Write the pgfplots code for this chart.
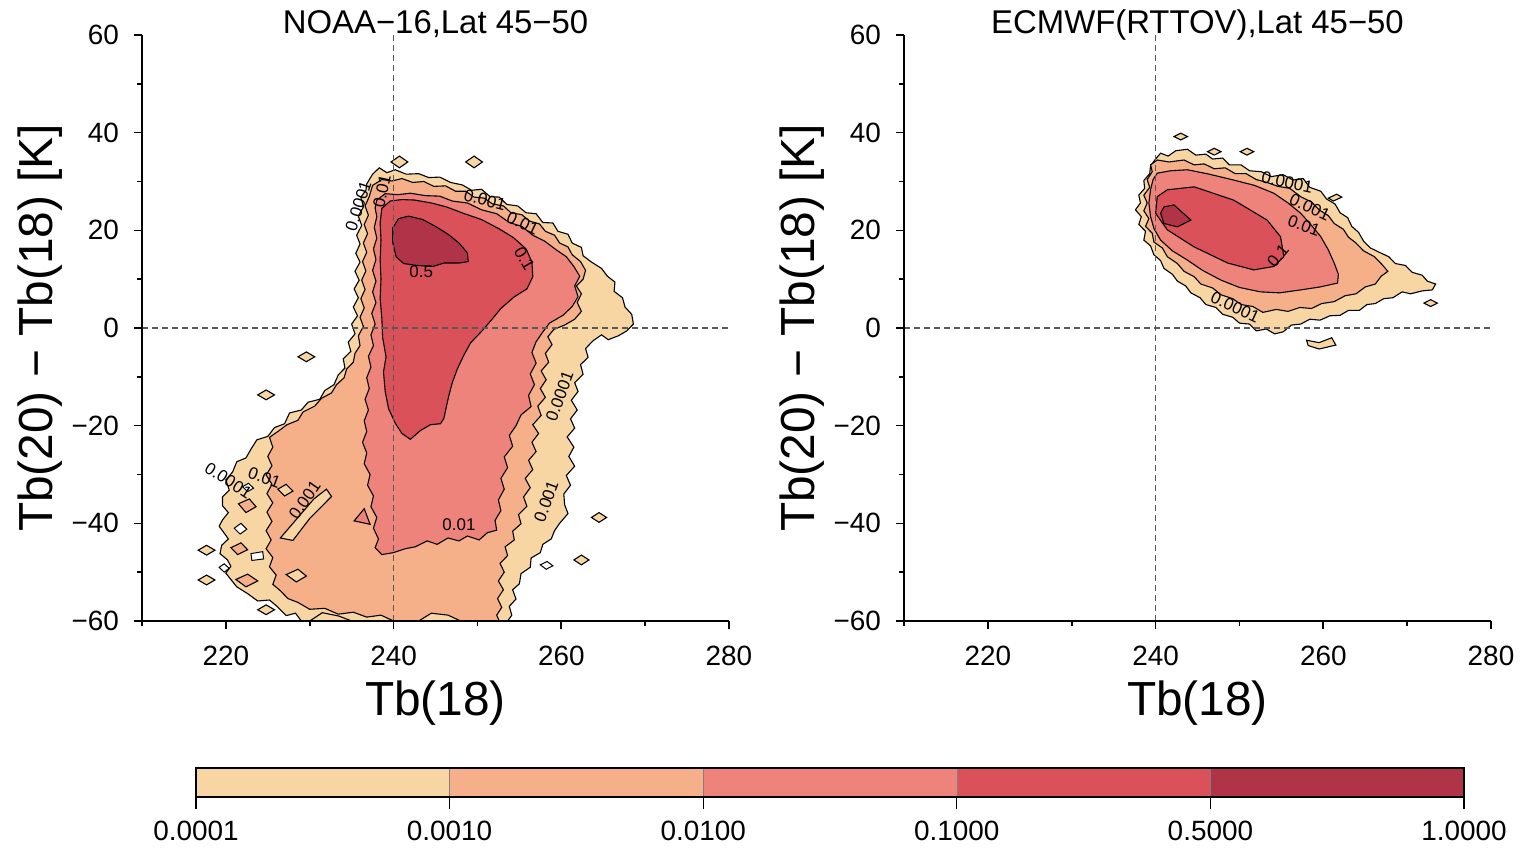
\documentclass[border=0pt]{standalone}
\usepackage{fontspec}
\setmainfont{Liberation Sans}
\usepackage{pgfplots}
\pgfplotsset{compat=1.18}
\definecolor{c1}{HTML}{F7D6A4}
\definecolor{c2}{HTML}{F5B089}
\definecolor{c3}{HTML}{EE837B}
\definecolor{c4}{HTML}{DA5159}
\definecolor{c5}{HTML}{B03347}
\tikzset{
 cl/.style={font=\fontsize{8.5}{9}\selectfont, inner sep=0pt},
 l1/.style={fill=c1, draw=black, line width=0.55bp},
 l2/.style={fill=c2, draw=black, line width=0.55bp},
 l3/.style={fill=c3, draw=black, line width=0.55bp},
 l4/.style={fill=c4, draw=black, line width=0.55bp},
 l5/.style={fill=c5, draw=black, line width=0.55bp},
 hole/.style={fill=white, draw=black, line width=0.5bp},
 dsh/.style={black!65, line width=0.6bp, dash pattern=on 3bp off 2bp},
}
\pgfplotsset{
 panel/.style={
  width=293.5bp, height=293bp, scale only axis,
  xmin=210,xmax=280,ymin=-60,ymax=60,
  axis x line*=bottom, axis y line*=left,
  axis line style={-, line width=1bp},
  tick align=outside,
  xtick={220,240,260,280}, minor xtick={210,230,250,270},
  ytick={-60,-40,-20,0,20,40,60}, yticklabels={−60,−40,−20,0,20,40,60},
  minor ytick={-50,-30,-10,10,30,50},
  major tick length=4bp, minor tick length=2.5bp,
  tick style={black, line width=0.8bp},
  ticklabel style={font=\fontsize{14}{16}\selectfont},
  xticklabel style={yshift=-5bp},
  yticklabel style={xshift=-4bp},
  /pgf/number format/assume math mode=true,
  xlabel={Tb(18)}, ylabel={Tb(20) − Tb(18) [K]},
  label style={font=\fontsize{24}{28}\selectfont},
  xlabel style={at={(axis description cs:0.5,-0.14)}, anchor=center},
  ylabel style={at={(axis description cs:-0.1735,0.5)}, anchor=center},
  title style={font=\fontsize{16.5}{18}\selectfont, at={(axis description cs:0.5,1)}, anchor=base, yshift=-5bp},
  axis on top,
 },
}
\begin{document}
\begin{tikzpicture}
\useasboundingbox (-71bp,-113.5bp) rectangle (691bp,310.5bp);
% ---------------- left panel ----------------
\begin{axis}[panel, at={(0,0)}, anchor=south west, title={NOAA−16,Lat 45−50}]
\addplot[l1] coordinates {(236.8,29.5) (237.5,31.5) (238.3,32.8) (239.2,31.8) (240.2,32.4) (241.5,31.5) (243,31.6) (244.2,30.8) (245.5,30.9) (246.8,29.8) (248.2,29.3) (249.3,28.2) (250.5,28.4) (251.5,26.9) (252.6,26.8) (253.5,25.3) (254.8,25.0) (255.8,23.6) (257,23.4) (257.8,21.6) (259,21.5) (259.6,19.8) (260.8,19.2) (261.3,17.4) (262.4,16.5) (262.6,14.8) (263.6,13.5) (264.8,12.2) (265.5,10.6) (266.4,9.4) (266.3,7.5) (267.3,6.2) (267.6,4.3) (268.4,2.8) (268.6,0.8) (267.8,-0.6) (266.8,-1.6) (265.6,-2.4) (264.8,-1.4) (263.8,-2.6) (262.9,-4.2) (263.2,-6.0) (262.3,-7.5) (262.6,-9.5) (261.6,-11.2) (262.0,-13.0) (261.2,-14.8) (261.9,-16.8) (261.1,-18.6) (261.6,-20.5) (260.7,-22.3) (261.5,-24.4) (260.9,-26.3) (261.6,-28.3) (260.6,-30.2) (261.1,-32.2) (260.3,-34.0) (260.4,-36.2) (260.8,-38.0) (259.8,-40.0) (259.2,-41.5) (258.8,-43.2) (257.8,-44.3) (257.5,-46.0) (256.4,-47.1) (256.3,-49.0) (255.2,-50.3) (255.0,-52.4) (254.2,-53.6) (254.6,-55.5) (253.8,-57.0) (254.1,-58.8) (253.6,-60) (229,-60) (228.3,-58.4) (227.2,-58.9) (226.1,-57.0) (225.2,-55.7) (223.8,-55.9) (222.6,-54.4) (221.3,-53) (220.6,-51.5) (220.0,-50.2) (220.6,-48.8) (220.2,-47.5) (219.3,-46.2) (219.5,-44.5) (220.3,-43.2) (219.8,-42) (219.2,-40.6) (219.6,-39.3) (220.3,-37.8) (219.6,-36.4) (219.6,-34.6) (220.4,-33.2) (220.0,-31.1) (220.8,-29.5) (221.3,-27.4) (222.4,-26.6) (223.0,-24.8) (223.7,-22.9) (225.0,-22.2) (225.8,-20.4) (227.0,-19.6) (227.6,-17.4) (229.0,-16.8) (229.8,-15.2) (231.2,-14.6) (231.8,-12.8) (232.9,-11.6) (233.4,-9.6) (234.2,-8.2) (234.0,-6.3) (234.9,-4.8) (234.6,-2.9) (235.4,-1.2) (235.0,0.8) (235.7,2.5) (235.2,4.3) (235.8,6.2) (235.3,8.0) (235.9,9.8) (235.4,11.6) (236.0,13.5) (235.5,15.3) (236.0,17.2) (235.6,19.0) (236.2,21.0) (235.8,22.9) (236.4,24.8) (236.1,26.8) (236.7,28.2)} -- cycle;
\addplot[l1] coordinates {(228.6,-5.9)(229.6,-4.9)(230.6,-5.9)(229.6,-6.9)} -- cycle;
\addplot[l1] coordinates {(223.8,-13.7)(224.8,-12.7)(225.8,-13.7)(224.8,-14.7)} -- cycle;
\addplot[l1] coordinates {(216.7,-45.5)(217.7,-44.5)(218.7,-45.5)(217.7,-46.5)} -- cycle;
\addplot[l1] coordinates {(216.7,-51.6)(217.7,-50.6)(218.7,-51.6)(217.7,-52.6)} -- cycle;
\addplot[l1] coordinates {(223.8,-57.7)(224.8,-56.7)(225.8,-57.7)(224.8,-58.7)} -- cycle;
\addplot[l1] coordinates {(239.7,34)(240.7,35.2)(241.7,34)(240.7,32.8)} -- cycle;
\addplot[l1] coordinates {(248.6,34)(249.6,35.2)(250.6,34)(249.6,32.8)} -- cycle;
\addplot[l1] coordinates {(261.5,-47.5)(262.4,-46.5)(263.3,-47.5)(262.4,-48.5)} -- cycle;
\addplot[l1] coordinates {(263.6,-38.8)(264.5,-37.8)(265.4,-38.8)(264.5,-39.8)} -- cycle;
\addplot[l2] coordinates {(237.5,29.2) (238.6,30.4) (239.8,30.1) (241,30.6) (242.3,29.8) (243.6,30.0) (244.8,29.0) (246.2,29.1) (247.4,28.0) (248.6,28.0) (249.6,26.8) (250.8,26.6) (251.8,25.4) (253.1,25.0) (254,23.6) (255.3,23.2) (256.2,21.9) (257.4,21.3) (258.1,19.8) (259.2,19.0) (259.8,17.4) (260.8,16.6) (261.3,15.0) (262.3,13.6) (262.9,11.8) (262.6,10.0) (261.8,8.6) (262.4,7.0) (261.9,5.2) (262.4,3.4) (261.6,1.8) (260.4,0.6) (259.1,-0.3) (258.4,-1.8) (258.9,-3.4) (258.1,-5.2) (258.5,-7.0) (257.6,-8.8) (258.2,-10.6) (257.5,-12.4) (258.1,-14.2) (257.2,-16.0) (257.6,-17.9) (256.6,-19.8) (257.3,-21.6) (256.5,-23.4) (257.0,-25.3) (256.1,-27.1) (256.6,-29.0) (255.7,-30.8) (256.3,-32.7) (255.5,-34.6) (255.9,-36.5) (254.9,-38.2) (255.2,-40.1) (254.2,-41.6) (254.4,-43.4) (253.3,-44.8) (253.6,-46.6) (252.7,-48.2) (253.2,-50.0) (252.5,-51.8) (253.1,-53.6) (252.4,-55.4) (252.9,-57.2) (252.3,-58.8) (252.6,-60) (240,-60) (238.5,-58.8) (236.8,-59.2) (235.2,-58.2) (233.4,-58.6) (231.8,-57.4) (230.0,-57.6) (228.6,-56.2) (227.4,-55.4) (226.5,-53.8) (225.6,-52.5) (226.0,-50.6) (225.2,-48.9) (225.6,-47.0) (224.8,-45.2) (225.4,-43.4) (224.8,-41.5) (225.5,-39.6) (224.9,-37.7) (225.6,-35.8) (224.9,-33.9) (225.5,-32.0) (224.8,-30.1) (225.5,-28.2) (225.0,-26.3) (225.6,-24.4) (225.2,-22.4) (226.2,-21.2) (227.3,-19.8) (228.6,-18.9) (229.2,-17.2) (230.6,-16.0) (231.4,-14.4) (232.6,-13.3) (233.2,-11.6) (234.1,-10.2) (234.4,-8.4) (235.2,-7.0) (235.4,-5.2) (236.0,-3.6) (235.8,-1.6) (236.4,0.3) (236.0,2.2) (236.5,4.1) (236.1,6.0) (236.6,7.9) (236.2,9.8) (236.7,11.7) (236.3,13.6) (236.8,15.5) (236.4,17.4) (236.9,19.3) (236.5,21.2) (237.0,23.1) (236.6,25.0) (237.1,26.9)} -- cycle;
% patches in the lower left
\addplot[l2] coordinates {(221.5,-36) (222.8,-35) (223.6,-36.6) (222.4,-37.8)} -- cycle;
\addplot[l2] coordinates {(221.2,-51.5) (222.6,-50.4) (223.8,-51.8) (222.4,-53)} -- cycle;
\addplot[l2] coordinates {(220.6,-45) (221.8,-44) (222.6,-45.4) (221.4,-46.4)} -- cycle;
\addplot[l1] coordinates {(226.5,-43) (228,-40) (230.5,-35) (232,-33) (232.6,-34.5) (230,-39) (228,-43.5)} -- cycle;
\addplot[l1] coordinates {(230,-60) (231.5,-58.3) (233.5,-59) (235,-60)} -- cycle;
\addplot[l1] coordinates {(243,-60) (244.5,-58.4) (246.5,-58.8) (248,-60)} -- cycle;
\addplot[l1] coordinates {(227.2,-50.5) (228.6,-49.4) (229.6,-50.8) (228.4,-52)} -- cycle;
\addplot[l1] coordinates {(226.2,-33) (227.2,-32) (228,-33.4) (227,-34.4)} -- cycle;
\addplot[hole] coordinates {(221,-41) (221.8,-40) (222.5,-41.2) (221.7,-42.2)} -- cycle;
\addplot[hole] coordinates {(223.0,-46.2) (224.4,-45.8) (224.5,-47.3) (223.1,-47.6)} -- cycle;
\addplot[hole] coordinates {(219.2,-49) (219.8,-48.3) (220.4,-49.2) (219.8,-50)} -- cycle;
\addplot[hole] coordinates {(222.0,-32.5) (222.7,-31.8) (223.3,-32.8) (222.6,-33.5)} -- cycle;
\addplot[hole] coordinates {(255.5,-1.5) (256.6,-0.8) (257.4,-1.8) (256.4,-2.6)} -- cycle;
\addplot[hole] coordinates {(257.5,-48.5) (258.3,-47.8) (259,-48.7) (258.2,-49.4)} -- cycle;
\addplot[l3] coordinates {(238.0,26.2) (239.0,27.5) (240.5,27.3) (242,27.6) (243.8,27.1) (245.5,27.0) (247,26.0) (248.8,25.6) (250.5,24.2) (252.3,23.4) (253.8,21.6) (255.3,20.8) (256.6,19.0) (258.0,17.8) (259.4,16.0) (260.6,14.6) (261.5,12.6) (262.2,10.6) (261.6,8.6) (262.0,6.4) (261.3,4.4) (260.2,2.6) (258.6,1.0) (257.8,-0.8) (257.0,-2.8) (256.5,-5.0) (257.0,-7.2) (256.3,-9.4) (256.8,-11.6) (256.1,-13.8) (256.4,-16.1) (255.2,-17.8) (254.6,-20.0) (253.8,-22.0) (254.2,-24.2) (253.2,-26.4) (253.6,-28.6) (252.8,-30.8) (253.2,-33.0) (252.5,-35.2) (252.8,-37.4) (252.1,-39.4) (252.3,-41.4) (251.2,-41.9) (250.2,-43.4) (248.8,-42.6) (247.8,-43.6) (246.5,-43.0) (245.2,-44.3) (244.0,-43.6) (242.6,-44.8) (241.4,-45.2) (240.0,-46.0) (238.6,-46.4) (237.8,-45.0) (238.2,-43.2) (237.6,-41.0) (238.0,-38.8) (237.3,-36.6) (237.6,-34.4) (236.9,-32.2) (237.2,-30.0) (236.5,-27.8) (236.8,-25.6) (236.3,-23.4) (236.8,-21.2) (236.5,-19.0) (237.0,-16.8) (236.6,-14.6) (237.1,-12.4) (236.8,-10.2) (237.3,-8.0) (237.0,-5.8) (237.6,-3.6) (237.3,-1.4) (237.8,0.8) (237.4,3.0) (237.9,5.2) (237.5,7.4) (237.9,9.6) (237.5,11.8) (237.9,14.0) (237.6,16.2) (238.0,18.4) (237.7,20.6) (238.0,22.8) (237.8,24.6)} -- cycle;
\addplot[l3] coordinates {(235.3,-39.5) (236.5,-37) (237.2,-40.2)} -- cycle;
\addplot[l4] coordinates {(238.6,24.5) (239.6,26.0) (241,26.3) (242.5,26.2) (244.5,25.6) (246.3,24.8) (248.3,23.5) (250.5,22.2) (252.6,20.3) (254.3,18.5) (255.8,16.2) (256.5,13.5) (256.6,10.5) (255.9,8.0) (254.4,6.4) (252.8,4.0) (251.6,1.5) (250.6,-0.5) (249.2,-3.0) (248.4,-5.5) (247.6,-8.4) (247.0,-11.2) (246.6,-13.8) (246.3,-16.1) (246.0,-18.5) (245.6,-19.6) (244.4,-19.8) (243.2,-21.0) (242.0,-22.8) (241.0,-21.6) (240.2,-19.5) (239.4,-16.5) (239.0,-13.0) (238.8,-9.0) (239.1,-5.9) (238.7,-2.0) (238.6,2.0) (238.4,6.0) (238.5,10.0) (238.4,14.0) (238.5,18.0) (238.4,21.5)} -- cycle;
\addplot[l5] coordinates {(239.9,17.5) (239.9,20.5) (240.6,22.4) (241.8,22.9) (243.5,22.2) (245.0,20.8) (246.5,19.2) (247.8,17.4) (248.8,15.4) (248.9,13.6) (247.8,13.3) (246.0,13.3) (244.7,12.6) (242.8,12.8) (241.2,13.2) (240.3,14.6)} -- cycle;
\addplot[dsh] coordinates {(240,-60) (240,60)};
\addplot[dsh] coordinates {(210,0) (280,0)};
\node[cl] at (axis cs:243.3,11.6) {0.5};
\node[cl, rotate=-60] at (axis cs:255.6,14.2) {0.1};
\node[cl, rotate=-25] at (axis cs:255.4,21.5) {0.01};
\node[cl, rotate=-15] at (axis cs:250.9,26.2) {0.001};
\node[cl, rotate=72] at (axis cs:235.8,25.0) {0.0001};
\node[cl, rotate=78] at (axis cs:238.6,28.0) {0.01};
\node[cl] at (axis cs:247.8,-40.2) {0.01};
\node[cl, rotate=70] at (axis cs:259.8,-14) {0.0001};
\node[cl, rotate=70] at (axis cs:258.2,-35.5) {0.001};
\node[cl, rotate=-33] at (axis cs:220.3,-31.2) {0.0001};
\node[cl, rotate=-20] at (axis cs:224.6,-30.6) {0.01};
\node[cl, rotate=55] at (axis cs:229.4,-35.2) {0.001};
\end{axis}
% ---------------- right panel ----------------
\begin{axis}[panel, at={(381bp,0)}, anchor=south west, title={ECMWF(RTTOV),Lat 45−50}]
\addplot[l1] coordinates {(240.6,35.8) (241.5,35.2) (242.4,36.3) (243.8,36.6) (244.8,35.4) (246.0,35.6) (246.8,34.6) (248.0,34.8) (248.8,33.4) (250.2,33.4) (251.2,32.2) (252.6,32.0) (253.8,31.0) (255.2,31.4) (256.4,30.3) (257.6,30.6) (258.4,28.8) (259.7,28.0) (260.4,26.4) (261.4,25.4) (262,23.6) (262.9,22.6) (263.4,20.8) (264.2,19.6) (264.8,17.8) (265.6,16.4) (266.8,15.4) (267.8,14.6) (268.6,13.2) (269.8,12.8) (270.6,11.4) (271.8,10.8) (272.4,9.6) (273.4,9.0) (273.0,7.8) (271.8,7.6) (270.4,7.0) (269.4,7.4) (268.3,6.2) (267.2,6.0) (266.2,5.0) (265.2,4.8) (264.3,3.6) (263.0,3.6) (262.0,2.6) (260.8,2.5) (259.6,1.6) (258.4,1.8) (257.3,0.8) (256.2,0.6) (255.2,-0.8) (254.2,-1.2) (253.2,-0.2) (252.0,-0.6) (251.2,0.8) (250.0,1.0) (249.2,2.2) (248.0,2.8) (247.2,4.2) (246.0,4.8) (245.3,6.2) (244.2,7.2) (243.6,8.6) (242.6,9.6) (242.0,11.0) (241.0,12.2) (240.6,13.8) (239.8,15.0) (239.4,16.8) (238.6,18.0) (238.8,19.8) (238.0,21.2) (238.3,22.8) (237.6,24.2) (238.2,25.6) (238.0,27.2) (238.7,28.6) (238.6,30.2) (239.3,31.6) (239.4,33.2) (240.0,34.6)} -- cycle;
\addplot[l1] coordinates {(258,-2.5) (259.5,-3) (261,-2) (261.5,-3.5) (259.5,-4.3) (258.2,-3.6)} -- cycle;
\addplot[l1] coordinates {(242.2,39.2)(243,39.9)(243.8,39.2)(243,38.5)} -- cycle;
\addplot[l1] coordinates {(246.2,36.1)(247,36.8)(247.8,36.1)(247,35.4)} -- cycle;
\addplot[l1] coordinates {(250.1,36.1)(250.9,36.8)(251.7,36.1)(250.9,35.4)} -- cycle;
\addplot[l1] coordinates {(272,5.1)(272.8,5.8)(273.6,5.1)(272.8,4.4)} -- cycle;
\addplot[l1] coordinates {(260.6,26.6)(261.6,27.4)(262.2,26.8)(261.2,26.0)} -- cycle;
\addplot[l2] coordinates {(240.2,34.4) (241.6,34.0) (243.4,34.4) (244.6,33.4) (245.8,33.6) (247.0,32.6) (248.3,32.8) (249.5,31.6) (250.8,31.6) (252.0,30.4) (253.3,29.8) (254.6,29.0) (256.0,28.6) (257.3,26.9) (258.6,25.8) (259.5,24.2) (260.6,23.0) (261.3,21.4) (262.4,20.2) (263.0,18.6) (263.9,17.4) (264.8,15.8) (266.1,14.6) (267.0,13.0) (267.7,11.6) (266.9,10.6) (266.2,9.0) (265.0,8.4) (263.9,7.0) (262.6,6.6) (261.3,5.4) (259.8,5.0) (258.6,4.0) (257.2,4.2) (255.8,3.4) (254.4,3.8) (252.8,3.2) (251.6,4.4) (250.2,4.8) (249.2,6.0) (247.8,6.8) (246.8,8.2) (245.4,9.0) (244.6,10.5) (243.4,11.6) (242.6,13.2) (241.4,14.6) (240.8,16.4) (239.8,17.6) (239.6,19.4) (238.8,20.8) (239.2,22.4) (238.6,24.0) (239.0,25.6) (238.6,27.2) (239.3,28.8) (239.0,30.4) (239.6,32.0) (239.4,33.4)} -- cycle;
\addplot[l3] coordinates {(240.2,31.7) (241.8,32.2) (243.8,32.4) (246.4,31.5) (249.3,30.3) (251.8,29.2) (254.1,27.6) (255.8,25.6) (257.3,23.5) (258.6,21.0) (259.7,18.7) (260.6,16.0) (261.3,13.3) (261.8,11.0) (261.7,9.2) (259.6,8.4) (257.3,7.8) (254.8,7.2) (252.5,7.4) (250.0,8.3) (247.8,9.8) (245.6,11.8) (243.8,13.9) (242.0,15.8) (240.6,18.0) (239.8,20.4) (239.4,22.8) (239.2,25.6) (239.4,28.3) (239.7,30.4)} -- cycle;
\addplot[l4] coordinates {(241.4,28.3) (244.6,28.9) (249.3,26.2) (253.3,22.1) (254.9,18.7) (255.3,14.6) (254.1,12.6) (251.7,11.9) (248.6,13.3) (244.6,16.6) (241.4,20.1) (240.0,23.5) (240.2,26.9)} -- cycle;
\addplot[l5] coordinates {(241.0,24.8) (242.2,25.2) (244.2,22.1) (242.6,20.7) (241.0,21.4) (240.6,23.5)} -- cycle;
\addplot[dsh] coordinates {(240,-60) (240,60)};
\addplot[dsh] coordinates {(210,0) (280,0)};
\node[cl, rotate=-12] at (axis cs:255.7,29.8) {0.0001};
\node[cl, rotate=-25] at (axis cs:258.4,24.8) {0.001};
\node[cl, rotate=-20] at (axis cs:257.7,21.0) {0.01};
\node[cl, rotate=50] at (axis cs:254.6,14.8) {0.1};
\node[cl, rotate=-25] at (axis cs:249.5,4.3) {0.0001};
\end{axis}
% ---------------- colour bar ----------------
\begin{axis}[at={(27bp,-88bp)}, anchor=south west, width=634bp, height=14.5bp, scale only axis,
  xmin=0, xmax=5, ymin=0, ymax=1, ytick=\empty,
  xtick={0,1,2,3,4,5}, xticklabels={0.0001,0.0010,0.0100,0.1000,0.5000,1.0000},
  xtick pos=left, tick align=outside, major tick length=6bp,
  tick style={black, line width=0.6bp},
  axis line style={line width=1.2bp},
  ticklabel style={font=\fontsize{14}{16}\selectfont},
  xticklabel style={yshift=-2.5bp},
  axis on top]
\addplot[fill=c1, draw=gray, line width=0.3bp] coordinates {(0,0) (1,0) (1,1) (0,1)} -- cycle;
\addplot[fill=c2, draw=gray, line width=0.3bp] coordinates {(1,0) (2,0) (2,1) (1,1)} -- cycle;
\addplot[fill=c3, draw=gray, line width=0.3bp] coordinates {(2,0) (3,0) (3,1) (2,1)} -- cycle;
\addplot[fill=c4, draw=gray, line width=0.3bp] coordinates {(3,0) (4,0) (4,1) (3,1)} -- cycle;
\addplot[fill=c5, draw=gray, line width=0.3bp] coordinates {(4,0) (5,0) (5,1) (4,1)} -- cycle;
\end{axis}
\end{tikzpicture}
\end{document}
